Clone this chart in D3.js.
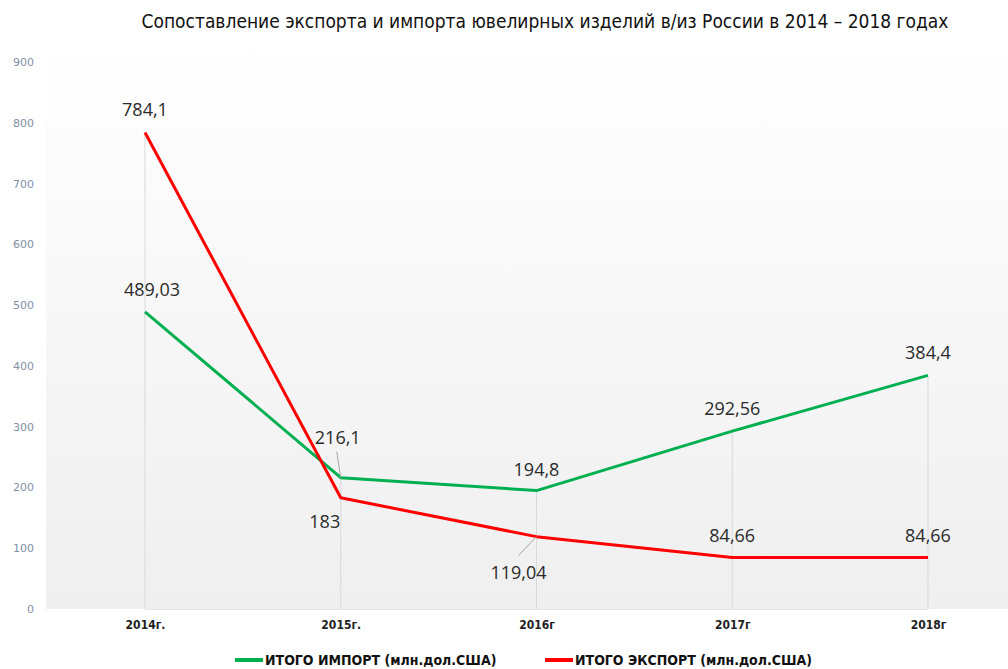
<!DOCTYPE html>
<html><head><meta charset="utf-8">
<script src="https://cdn.jsdelivr.net/npm/d3@7"></script>
<style>body{margin:0;background:#fff}svg{display:block}</style>
</head><body><div id="chart"></div>
<script>
const categories = ["2014г.", "2015г.", "2016г", "2017г", "2018г"];
const importValues = [489.03, 216.1, 194.8, 292.56, 384.4];
const exportValues = [784.1, 183, 119.04, 84.66, 84.66];
const importLabels = ["489,03", "216,1", "194,8", "292,56", "384,4"];
const exportLabels = ["784,1", "183", "119,04", "84,66", "84,66"];
const yTicks = [0, 100, 200, 300, 400, 500, 600, 700, 800, 900];
const seriesNames = ["ИТОГО ИМПОРТ (млн.дол.США)", "ИТОГО ЭКСПОРТ (млн.дол.США)"];
const title = "Сопоставление экспорта и импорта ювелирных изделий в/из России в 2014 – 2018 годах";

const W = 1008, H = 669;
const svg = d3.select("#chart").append("svg").attr("width", W).attr("height", H);
const narrow = "'Liberation Sans Narrow','DejaVu Sans Condensed',sans-serif";

const defs = svg.append("defs");
const grad = defs.append("linearGradient").attr("id", "bg").attr("x1", 0).attr("y1", 0).attr("x2", 0).attr("y2", 1);
grad.append("stop").attr("offset", "0%").attr("stop-color", "#ffffff");
grad.append("stop").attr("offset", "100%").attr("stop-color", "#efefef");

const x = d3.scalePoint().domain(categories).range([145, 928]);
const y = d3.scaleLinear().domain([0, 900]).range([609, 62]);

svg.append("rect").attr("x", 46).attr("y", 40).attr("width", W - 46).attr("height", 609 - 40).attr("fill", "url(#bg)");

svg.append("text").attr("x", 545).attr("y", 28).attr("text-anchor", "middle")
  .attr("font-family", narrow).attr("font-size", 19).attr("fill", "#111").text(title);

// y axis
const yAxis = svg.append("g").attr("transform", "translate(34,0)")
  .call(d3.axisLeft(y).tickValues(yTicks).tickSize(0).tickPadding(0));
yAxis.select(".domain").remove();
yAxis.selectAll("text").attr("font-family", "'DejaVu Sans',sans-serif").attr("font-size", 11).attr("fill", "#8190a5").attr("dy", "0.32em");

// x axis
const xAxis = svg.append("g").attr("transform", "translate(0,609)")
  .call(d3.axisBottom(x).tickSize(0).tickPadding(11));
xAxis.select(".domain").attr("stroke", "#e6e6e6");
xAxis.selectAll("text").attr("font-family", narrow).attr("font-weight", "bold").attr("font-size", 12).attr("fill", "#222");

// drop lines
svg.append("g").selectAll("line").data(categories).join("line")
  .attr("x1", d => x(d)).attr("x2", d => x(d))
  .attr("y1", (d, i) => y(Math.max(importValues[i], exportValues[i])))
  .attr("y2", y(0)).attr("stroke", "#d9d9d9").attr("stroke-width", 1);

const line = d3.line().x((d, i) => x(categories[i])).y(d => y(d));
svg.append("path").datum(importValues).attr("d", line).attr("fill", "none").attr("stroke", "#00b050").attr("stroke-width", 3).attr("stroke-linejoin", "round");
svg.append("path").datum(exportValues).attr("d", line).attr("fill", "none").attr("stroke", "#ff0000").attr("stroke-width", 3).attr("stroke-linejoin", "round");

// leader lines
const leaders = [
  {cat: 1, v: importValues[1], dx1: -4, dy1: -26},
  {cat: 2, v: exportValues[2], dx1: -18, dy1: 19}
];
svg.append("g").selectAll("line").data(leaders).join("line")
  .attr("x1", d => x(categories[d.cat]) + d.dx1).attr("y1", d => y(d.v) + d.dy1)
  .attr("x2", d => x(categories[d.cat])).attr("y2", d => y(d.v))
  .attr("stroke", "#a6a6a6").attr("stroke-width", 1);

// data labels (offsets relative to point)
const impOff = [[7, -16], [-3, -34], [0, -15], [0, -16], [0, -16]];
const expOff = [[0, -16], [-16, 30], [-18, 42], [0, -16], [0, -16]];
const lbl = svg.append("g").attr("font-family", "'Open Sans',sans-serif").attr("font-size", 18).attr("fill", "#2b2b2b").attr("text-anchor", "middle");
lbl.selectAll(".imp").data(importValues).join("text").attr("class", "imp")
  .attr("x", (d, i) => x(categories[i]) + impOff[i][0]).attr("y", (d, i) => y(d) + impOff[i][1])
  .text((d, i) => importLabels[i]);
lbl.selectAll(".exp").data(exportValues).join("text").attr("class", "exp")
  .attr("x", (d, i) => x(categories[i]) + expOff[i][0]).attr("y", (d, i) => y(d) + expOff[i][1])
  .text((d, i) => exportLabels[i]);

// legend
const legend = svg.append("g").attr("font-family", narrow).attr("font-weight", "bold").attr("font-size", 14).attr("fill", "#111");
const legItems = [{name: seriesNames[0], color: "#00b050", x: 235}, {name: seriesNames[1], color: "#ff0000", x: 545}];
legItems.forEach(it => {
  legend.append("line").attr("x1", it.x).attr("x2", it.x + 28).attr("y1", 660).attr("y2", 660).attr("stroke", it.color).attr("stroke-width", 4);
  legend.append("text").attr("x", it.x + 30).attr("y", 665).text(it.name);
});
</script></body></html>
